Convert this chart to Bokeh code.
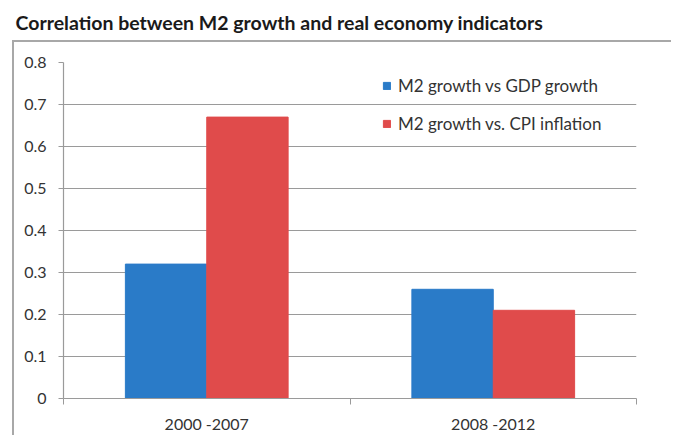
import numpy as np
from bokeh.plotting import figure
from bokeh.layouts import column, row
from bokeh.models import (ColumnDataSource, FixedTicker, Range1d, Legend, LegendItem,
                          Label, Spacer)
from bokeh.transform import dodge
from bokeh.embed import file_html
from bokeh.resources import INLINE

# ---- data ----
categories = ["2000 -2007", "2008 -2012"]
series_names = ["M2 growth vs GDP growth", "M2 growth vs. CPI inflation"]
gdp_corr = [0.32, 0.26]
cpi_corr = [0.67, 0.21]
y_ticks = [0, 0.1, 0.2, 0.3, 0.4, 0.5, 0.6, 0.7, 0.8]
title_text = "Correlation between M2 growth and real economy indicators"

BLUE = "#2a7bc8"
RED = "#e04b4b"
GRID = "#9a9a9a"
BOX = "#a8a8a8"
TXT = "#333333"
FONT = "Lato"

# ---- title strip ----
tf = figure(width=667, height=40, output_backend="svg", toolbar_location=None,
            x_range=Range1d(0, 667), y_range=Range1d(0, 40),
            x_axis_type=None, y_axis_type=None, min_border=0)
tf.outline_line_color = None
tf.grid.visible = False
tf.add_layout(Label(x=15, y=18, text=title_text, text_font=FONT,
                    text_font_style="bold", text_font_size="19.5px",
                    text_color="#1a1a1a", text_baseline="middle"))

# ---- main chart ----
pos = list(np.arange(len(categories)) + 0.5)
src = ColumnDataSource(dict(x=pos, gdp=gdp_corr, cpi=cpi_corr))

p = figure(width=659, height=395, output_backend="svg", toolbar_location=None,
           x_range=Range1d(0, len(categories)), y_range=Range1d(0, 0.8),
           min_border_left=49, min_border_right=37, min_border_top=20,
           min_border_bottom=39,
           styles={"border-top": f"2px solid {BOX}", "border-left": f"2px solid {BOX}"})
p.outline_line_color = None
p.background_fill_color = "white"
p.border_fill_color = "white"

bw = 0.284
r1 = p.vbar(x=dodge("x", -bw / 2, range=p.x_range), top="gdp", width=bw, source=src,
            fill_color=BLUE, line_color=BLUE)
r2 = p.vbar(x=dodge("x", bw / 2, range=p.x_range), top="cpi", width=bw, source=src,
            fill_color=RED, line_color=RED)

# x axis
xa = p.xaxis[0]
xa.ticker = FixedTicker(ticks=pos, minor_ticks=list(range(len(categories) + 1)))
xa.major_label_overrides = {float(v): c for v, c in zip(pos, categories)}
xa.major_tick_out = 0
xa.major_tick_in = 0
xa.minor_tick_out = 6
xa.minor_tick_in = 0
xa.minor_tick_line_color = GRID
xa.axis_line_color = GRID
xa.axis_line_width = 1.2
xa.major_label_standoff = 9
xa.major_label_text_font = FONT
xa.major_label_text_font_size = "16px"
xa.major_label_text_color = TXT

# y axis
ya = p.yaxis[0]
ya.ticker = FixedTicker(ticks=y_ticks, minor_ticks=[])
ya.major_label_overrides = {0: "0"}
ya.major_tick_out = 5
ya.major_tick_in = 0
ya.major_tick_line_color = GRID
ya.axis_line_color = GRID
ya.axis_line_width = 1.2
ya.major_label_standoff = 12
ya.major_label_text_font = FONT
ya.major_label_text_font_size = "16px"
ya.major_label_text_color = TXT

p.xgrid.grid_line_color = None
p.ygrid.ticker = FixedTicker(ticks=y_ticks)
p.ygrid.grid_line_color = GRID
p.ygrid.grid_line_width = 1.2

# legend
legend = Legend(items=[LegendItem(label=series_names[0], renderers=[r1]),
                       LegendItem(label=series_names[1], renderers=[r2])],
                location=(319, 264), glyph_width=9, glyph_height=9,
                label_text_font=FONT, label_text_font_size="17px",
                label_text_color=TXT, label_standoff=7, label_height=22,
                spacing=16, padding=0, margin=0,
                background_fill_alpha=0, border_line_alpha=0)
p.add_layout(legend, "center")

layout = column(tf, row(Spacer(width=12, height=395), p, spacing=0), spacing=0)

open("out.html", "w").write(file_html(layout, INLINE))
